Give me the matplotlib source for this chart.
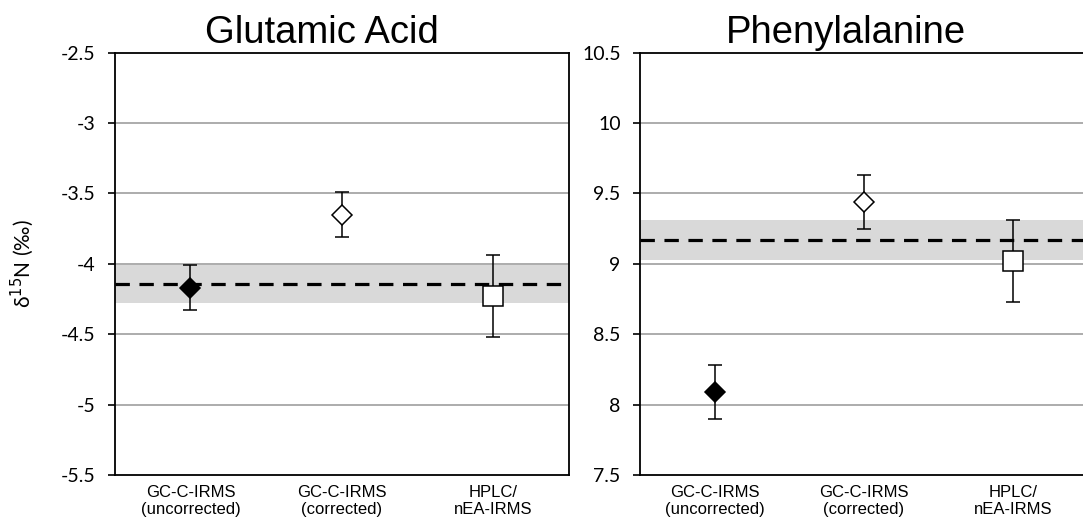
import matplotlib.pyplot as plt

methods = ['GC-C-IRMS\n(uncorrected)', 'GC-C-IRMS\n(corrected)', 'HPLC/\nnEA-IRMS']

glu_values = [-4.17, -3.65, -4.23]
glu_errors = [0.16, 0.16, 0.29]
glu_ref = -4.14
glu_ref_sd = 0.135

phe_values = [8.09, 9.44, 9.02]
phe_errors = [0.19, 0.19, 0.29]
phe_ref = 9.17
phe_ref_sd = 0.14

glu_ticks = [-5.5, -5, -4.5, -4, -3.5, -3, -2.5]
phe_ticks = [7.5, 8, 8.5, 9, 9.5, 10, 10.5]

# marker style per method: (marker, face, size)
styles = [('D', 'black', 10), ('D', 'white', 10), ('s', 'white', 15)]

tick_font = 'Lato'
label_font = 'Liberation Sans'


def draw_panel(ax, title, values, errors, ref, ref_sd, ticks, title_x):
    xs = [0.5, 1.5, 2.5]
    ax.set_xlim(0, 3)
    ax.set_ylim(ticks[0], ticks[-1])
    ax.axhspan(ref - ref_sd, ref + ref_sd, color='#d9d9d9', zorder=1, lw=0)
    for t in ticks[1:-1]:
        ax.axhline(t, color='#a6a6a6', lw=1.3, zorder=0.5)
    ax.axhline(ref, color='black', lw=2.3, dashes=(4.5, 3), zorder=2)
    for x, v, e, (m, fc, ms) in zip(xs, values, errors, styles):
        ax.errorbar(x, v, yerr=e, fmt='none', ecolor='black', elinewidth=1.1,
                    capsize=5, capthick=1.1, zorder=3)
        ax.plot(x, v, marker=m, mfc=fc, mec='black', ms=ms, mew=1.1,
                linestyle='none', zorder=4)
    ax.set_yticks(ticks)
    ax.set_yticklabels([f'{t:g}' for t in ticks], fontfamily=tick_font, fontsize=14)
    ax.set_xticks(xs)
    ax.set_xticklabels(methods, fontfamily=label_font, fontsize=12, linespacing=1.2)
    ax.tick_params(axis='x', length=0, pad=7)
    ax.tick_params(axis='y', length=5, width=1.2, direction='out', pad=9)
    for s in ax.spines.values():
        s.set_linewidth(1.3)
        s.set_color('black')
    ax.set_title(title, fontfamily=label_font, fontsize=27.5, pad=7, x=title_x)


fig = plt.figure(figsize=(10.83, 5.22), dpi=100)
ax1 = fig.add_axes([0.106, 0.090, 0.419, 0.809])
ax2 = fig.add_axes([0.591, 0.090, 0.413, 0.809])

draw_panel(ax1, 'Glutamic Acid', glu_values, glu_errors, glu_ref, glu_ref_sd, glu_ticks, 0.457)
draw_panel(ax2, 'Phenylalanine', phe_values, phe_errors, phe_ref, phe_ref_sd, phe_ticks, 0.46)
ax2.spines['right'].set_visible(False)

ax1.set_ylabel('δ$^{15}$N (‰)', fontfamily=tick_font, fontsize=15, labelpad=18)

fig.savefig('out.png', dpi=100)
